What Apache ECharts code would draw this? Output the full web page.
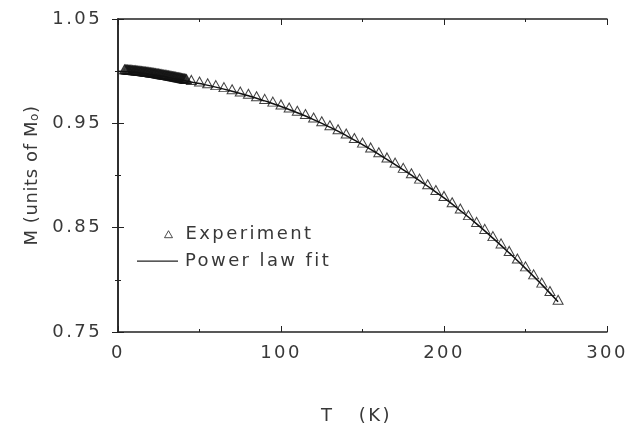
<!DOCTYPE html>
<html>
<head>
<meta charset="utf-8">
<script src="https://cdn.jsdelivr.net/npm/echarts@6/dist/echarts.min.js"></script>
<style>html,body{margin:0;padding:0;background:#fff}#c{width:630px;height:424px}</style>
</head>
<body>
<div id="c"></div>
<script>
const expT = [
  4,4.5,5,5.5,6,6.5,7,7.5,8,8.5,9,9.5,10,10.5,11,11.5,12,12.5,13,13.5,
  14,14.5,15,15.5,16,16.5,17,17.5,18,18.5,19,19.5,20,20.5,21,21.5,22,22.5,23,23.5,
  24,24.5,25,25.5,26,26.5,27,27.5,28,28.5,29,29.5,30,30.5,31,31.5,32,32.5,33,33.5,
  34,34.5,35,35.5,36,36.5,37,37.5,38,38.5,39,39.5,40,40.5,41,41.5,42,
  45,50,55,60,65,70,75,80,85,90,95,100,105,110,115,120,125,130,135,140,145,150,155,160,165,170,175,180,185,190,195,200,205,210,215,220,225,230,235,240,245,250,255,260,265,270];
const expM = [
  0.9998,0.9998,0.9997,0.9996,0.9996,0.9995,0.9994,0.9993,0.9993,0.9992,0.9991,0.9990,0.9990,0.9989,0.9988,0.9987,0.9986,0.9985,0.9984,0.9983,
  0.9982,0.9981,0.9980,0.9979,0.9978,0.9977,0.9976,0.9975,0.9974,0.9973,0.9972,0.9970,0.9969,0.9968,0.9967,0.9965,0.9964,0.9963,0.9962,0.9960,
  0.9959,0.9958,0.9957,0.9955,0.9954,0.9952,0.9951,0.9949,0.9948,0.9947,0.9946,0.9944,0.9943,0.9941,0.9940,0.9938,0.9937,0.9935,0.9934,0.9932,
  0.9931,0.9929,0.9928,0.9926,0.9925,0.9923,0.9922,0.9920,0.9919,0.9917,0.9915,0.9913,0.9912,0.9910,0.9909,0.9907,0.9906,
  0.9897,0.9881,0.9865,0.9847,0.9828,0.9808,0.9786,0.9764,0.9740,0.9715,0.9689,0.9662,0.9632,0.9602,0.9570,0.9536,0.9500,0.9463,0.9424,0.9383,0.9340,0.9296,0.9250,0.9203,0.9154,0.9104,0.9054,0.9003,0.8951,0.8897,0.8842,0.8785,0.8725,0.8664,0.8601,0.8536,0.8469,0.8400,0.8330,0.8258,0.8185,0.8110,0.8033,0.7954,0.7873,0.7790];
const fitT = [0,10,20,30,40,50,60,70,80,90,100,110,120,130,140,150,160,170,180,190,200,210,220,230,240,250,260,270];
const fitM = [1.0000,0.9990,0.9969,0.9943,0.9912,0.9881,0.9847,0.9808,0.9764,0.9715,0.9662,0.9602,0.9536,0.9463,0.9383,0.9296,0.9203,0.9104,0.9003,0.8897,0.8785,0.8664,0.8536,0.8400,0.8258,0.8110,0.7954,0.7790];
const xTicks = {min: 0, max: 300, interval: 100};
const yTicks = {min: 0.75, max: 1.05, interval: 0.1};
const seriesNames = ['Experiment', 'Power law fit'];

// wide tracking like the original typeset (applied to text set in plain "DejaVu Sans")
(function () {
  const P = CanvasRenderingContext2D.prototype;
  if (!('letterSpacing' in P)) return;
  const f = P.fillText, m = P.measureText;
  const sp = ctx => (ctx.font.indexOf('sans-serif') >= 0 ? '0.6px' : '2.4px');
  P.fillText = function () { this.letterSpacing = sp(this); return f.apply(this, arguments); };
  P.measureText = function () { this.letterSpacing = sp(this); return m.apply(this, arguments); };
})();

const FONT = 'DejaVu Sans';
const FONT_Y = 'DejaVu Sans, sans-serif';
const TXT = '#383838';
const axLine = {show: true, lineStyle: {color: '#222', width: 1.5}};
const chart = echarts.init(document.getElementById('c'), null, {renderer: 'canvas'});
const baseX = {type: 'value', min: xTicks.min, max: xTicks.max, interval: xTicks.interval,
  axisLine: axLine, splitLine: {show: false},
  axisTick: {show: true, inside: true, length: 6, lineStyle: {color: '#222'}},
  minorTick: {show: true, splitNumber: 2, length: 3, lineStyle: {color: '#222'}}};
const baseY = {type: 'value', min: yTicks.min, max: yTicks.max, interval: yTicks.interval,
  axisLine: axLine, splitLine: {show: false},
  axisTick: {show: true, inside: true, length: 6, lineStyle: {color: '#222'}},
  minorTick: {show: true, splitNumber: 2, length: 3, lineStyle: {color: '#222'}}};
chart.setOption({
  animation: false,
  backgroundColor: '#fff',
  grid: {left: 118, right: 23, top: 19, bottom: 92, containLabel: false, outerBoundsMode: 'none'},
  legend: [
    {data: [{name: seriesNames[0], icon: 'triangle'}], left: 164, top: 224, itemWidth: 8, itemHeight: 7,
     padding: 0, selectedMode: false,
     itemStyle: {color: 'rgba(0,0,0,0)', borderColor: '#222', borderWidth: 1},
     textStyle: {fontFamily: FONT, fontSize: 18, color: TXT, padding: [0, 0, 0, 8]}},
    {data: [{name: seriesNames[1], icon: 'rect'}], left: 137, top: 251, itemWidth: 41, itemHeight: 1.3,
     padding: 0, selectedMode: false,
     itemStyle: {color: '#222', borderWidth: 0},
     textStyle: {fontFamily: FONT, fontSize: 18, color: TXT, padding: [0, 0, 0, 2]}}
  ],
  xAxis: [
    Object.assign({}, baseX, {position: 'bottom',
      name: 'T   (K)', nameLocation: 'middle', nameGap: 74,
      nameTextStyle: {fontFamily: FONT, fontSize: 18, color: TXT, padding: [0, 12, 0, 0]},
      axisLabel: {show: true, margin: 11, fontFamily: FONT, fontSize: 18, color: TXT}}),
    Object.assign({}, baseX, {position: 'top', axisLabel: {show: false}})
  ],
  yAxis: [
    Object.assign({}, baseY, {position: 'left',
      name: 'M (units of M{sub|o})', nameLocation: 'middle', nameGap: 72, nameRotate: 90,
      nameTextStyle: {fontFamily: FONT_Y, fontSize: 18, color: TXT,
        rich: {sub: {fontFamily: FONT_Y, fontSize: 12, color: TXT, verticalAlign: 'bottom', padding: [6, 0, 0, 0]}}},
      axisLabel: {show: true, margin: 16, fontFamily: FONT, fontSize: 18, color: TXT,
        formatter: v => v.toFixed(2)}}),
    Object.assign({}, baseY, {position: 'right', axisLabel: {show: false}})
  ],
  series: [
    {name: seriesNames[0], type: 'scatter', xAxisIndex: 0, yAxisIndex: 0,
     data: expT.map((t, i) => [t, expM[i]]),
     symbol: 'triangle', symbolSize: [10, 9], symbolOffset: [0, -2],
     itemStyle: {color: 'rgba(0,0,0,0)', borderColor: '#111', borderWidth: 1}, z: 3},
    {name: seriesNames[1], type: 'line', xAxisIndex: 0, yAxisIndex: 0, smooth: true,
     data: fitT.map((t, i) => [t, fitM[i]]),
     showSymbol: false, symbol: 'none',
     lineStyle: {color: '#111', width: 1.5}, z: 4}
  ]
});
</script>
</body>
</html>
